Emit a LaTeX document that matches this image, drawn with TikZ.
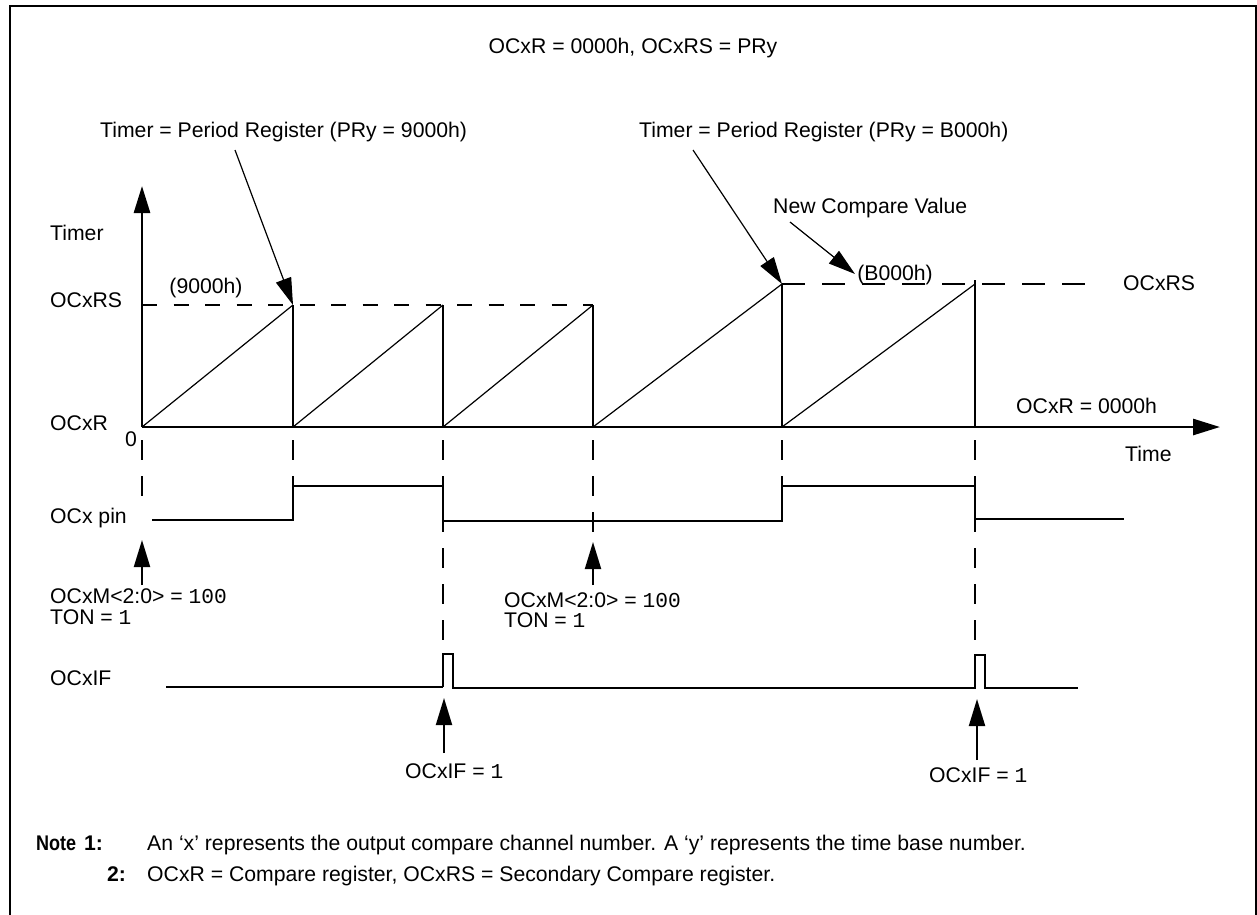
\documentclass[tikz,border=0pt]{standalone}
\usepackage{fontspec}
\setmainfont{Liberation Sans}
\setmonofont{Liberation Mono}
\usetikzlibrary{arrows.meta}
\begin{document}
\begin{tikzpicture}[x=1pt,y=-1pt,
  every node/.style={inner sep=0pt, font=\fontsize{21.2}{21}\selectfont},
  lab/.style={anchor=base west},
  labc/.style={anchor=base},
  axisline/.style={line width=2.7pt},
  sigline/.style={line width=2.5pt},
  rampline/.style={line width=1.2pt},
  annline/.style={line width=1.2pt},
  tipend/.style={-{Triangle[length=27pt,width=16pt]}},
  vdash/.style={line width=2.5pt, dash pattern=on 20pt off 16pt},
  hdashA/.style={line width=2.5pt, dash pattern=on 15pt off 16.5pt},
  hdashB/.style={line width=2.5pt, dash pattern=on 23pt off 17pt}
]
\useasboundingbox (0,0) rectangle (1257,914);
% frame
\draw[line width=2pt] (10,920) -- (10,6) -- (1256,6) -- (1256,920);

% key coordinates
\coordinate (O) at (142,427);
\coordinate (yend) at (142,186);
\coordinate (xend) at (1220,427);
\coordinate (t1) at (293,427);
\coordinate (t2) at (443,427);
\coordinate (t3) at (593,427);
\coordinate (t4) at (782,427);
\coordinate (t5) at (975,427);
\coordinate (p1) at (293,305);
\coordinate (p2) at (443,305);
\coordinate (p3) at (593,305);
\coordinate (p4) at (782,284);
\coordinate (p5) at (975,284);

% texts
\node[labc] (top) at (633,53) {OCxR = 0000h, OCxRS = PRy};
\node[lab] (ann1) at (100,137) {Timer = Period Register (PRy = 9000h)};
\node[lab] (ann2) at (639,137) {Timer = Period Register (PRy = B000h)};
\node[lab] (ann3) at (773,213) {New Compare Value};
\node[lab] (ytl) at (50,240) {Timer};
\node[lab] (rsl) at (50,307) {OCxRS};
\node[labc] (v9) at (206,293) {(9000h)};
\node[labc] (vb) at (895,280) {(B000h)};
\node[lab] (rsr) at (1123,290) {OCxRS};
\node[lab] (rl) at (50,430) {OCxR};
\node[labc] (zero) at (131,446) {0};
\node[lab] (rr) at (1016,413) {OCxR = 0000h};
\node[lab] (time) at (1125,461) {Time};
\node[lab] (pin) at (50,523) {OCx pin};
\node[lab] (m1a) at (50,603) {OCxM<2:0> = \texttt{100}};
\node[lab] (m1b) at (50,624) {TON = \texttt{1}};
\node[lab] (m2a) at (504,607) {OCxM<2:0> = \texttt{100}};
\node[lab] (m2b) at (504,627) {TON = \texttt{1}};
\node[lab] (ifl) at (50,685) {OCxIF};
\node[lab] (if1) at (405,778) {OCxIF = \texttt{1}};
\node[lab] (if2) at (929,782) {OCxIF = \texttt{1}};
\node[lab] (n1a) at (36,850) {\scalebox{0.85}[1]{\bfseries Note}};
\node[lab] (n1b) at (84,850) {\bfseries 1:};
\node[lab] (n1t) at (147,850) {An ‘x’ represents the output compare channel number. A ‘y’ represents the time base number.};
\node[lab] (n2b) at (107,881) {\bfseries 2:};
\node[lab] (n2t) at (147,881) {OCxR = Compare register, OCxRS = Secondary Compare register.};

% axes
\draw[axisline,tipend] (O) -- (yend);
\draw[axisline,tipend] (O) -- (xend);

% compare levels
\draw[hdashA] (142,305) -- (p3);
\draw[hdashB] (p4) -- (1095,284);

% ramps
\draw[rampline] (O) -- (p1);
\draw[rampline] (t1) -- (p2);
\draw[rampline] (t2) -- (p3);
\draw[rampline] (t3) -- (p4);
\draw[rampline] (t4) -- (p5);
% resets
\draw[sigline] (t1) -- (p1);
\draw[sigline] (t2) -- (p2);
\draw[sigline] (t3) -- (p3);
\draw[sigline] (t4) -- (p4);
\draw[sigline] (t5) -- (975,280);

% annotation arrows
\coordinate (a1) at (235,150);
\coordinate (a2) at (693,150);
\coordinate (a3) at (790,222);
\coordinate (a3t) at (855,274);
\draw[annline,tipend] (a1) -- (p1);
\draw[annline,tipend] (a2) -- (p4);
\draw[annline,tipend] (a3) -- (a3t);

% vertical dashed time markers
\draw[vdash] (142,440) -- (142,512);
\draw[vdash] (293,440) -- (293,486);
\draw[vdash] (443,440) -- (443,654);
\draw[vdash] (593,440) -- (593,537);
\draw[vdash] (782,440) -- (782,486);
\draw[vdash] (975,440) -- (975,655);

% OCx pin
\draw[sigline] (152,520) -- (293,520) -- (293,486) -- (443,486) -- (443,521)
  -- (782,521) -- (782,486) -- (975,486) -- (975,519) -- (1124,519);

% OCxIF
\draw[line width=1.8pt] (166,687) -- (443,687);
\draw[sigline] (443,687) -- (443,654) -- (453,654) -- (453,688) -- (975,688)
  -- (975,655) -- (985,655) -- (985,688) -- (1078,688);

% event arrows
\coordinate (e1) at (142,585); \coordinate (e1t) at (142,540);
\coordinate (e2) at (593,585); \coordinate (e2t) at (593,542);
\coordinate (e3) at (444,753); \coordinate (e3t) at (444,698);
\coordinate (e4) at (977,760); \coordinate (e4t) at (977,699);
\draw[line width=2pt,tipend] (e1) -- (e1t);
\draw[line width=2pt,tipend] (e2) -- (e2t);
\draw[line width=2pt,tipend] (e3) -- (e3t);
\draw[line width=2pt,tipend] (e4) -- (e4t);
\end{tikzpicture}
\end{document}
